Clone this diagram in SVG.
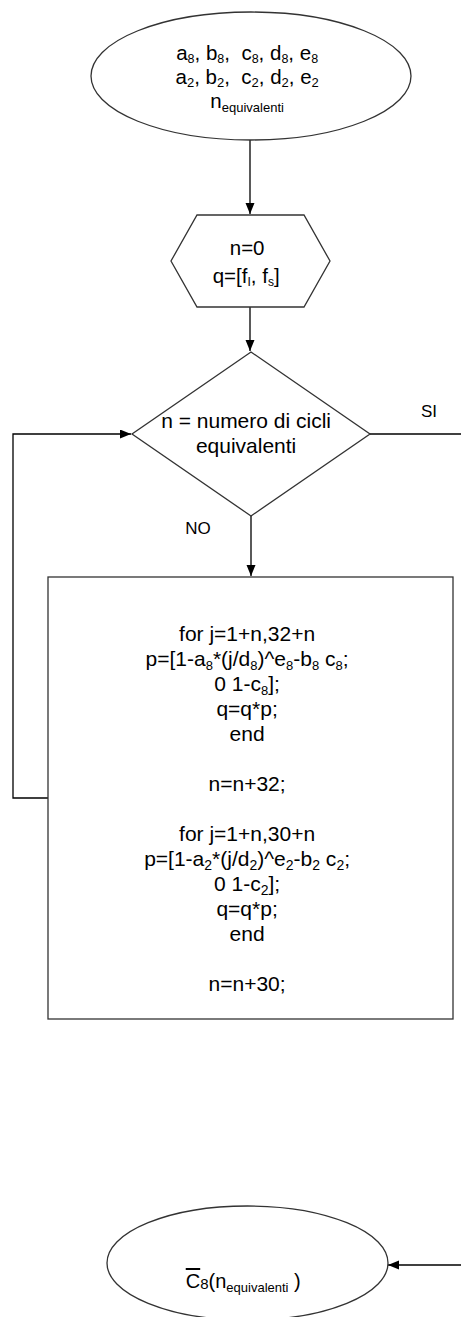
<svg xmlns="http://www.w3.org/2000/svg" width="461" height="1317" viewBox="0 0 461 1317">
<style>
.shape{fill:#fff;stroke:#333;stroke-width:1.3}
.conn{fill:none;stroke:#000;stroke-width:1.3}
.t{font-family:"Liberation Sans",Arial,sans-serif;fill:#000;text-anchor:middle;white-space:pre}
.lbl{font-family:"Liberation Sans",Arial,sans-serif;fill:#000;font-size:17px;text-anchor:middle}
</style>
<defs>
<marker id="arr" markerUnits="userSpaceOnUse" markerWidth="12" markerHeight="10" refX="11" refY="4.5" orient="auto">
<path d="M0,0 L11,4.5 L0,9 z" fill="#000"/>
</marker>
</defs>
<rect width="461" height="1317" fill="#fff"/>
<g id="connectors">
<path class="conn" d="M250,140 V214" marker-end="url(#arr)"/>
<path class="conn" d="M250,307 V351" marker-end="url(#arr)"/>
<path class="conn" d="M251,516 V576" marker-end="url(#arr)"/>
<path class="conn" d="M48,798 H13 V434 H131" marker-end="url(#arr)"/>
<path class="conn" d="M370,434 H461"/>
<path class="conn" d="M461,1265 H388" marker-end="url(#arr)"/>
<text class="lbl" x="429" y="417">SI</text>
<text class="lbl" x="198" y="534">NO</text>
</g>
<g id="start">
<ellipse class="shape" cx="251" cy="76" rx="160" ry="64"/>
<text class="t" font-size="20.5">
<tspan x="250" y="60">a<tspan dy="3" font-size="12.5">8</tspan><tspan dy="-3">, b</tspan><tspan dy="3" font-size="12.5">8</tspan><tspan dy="-3">,  c</tspan><tspan dy="3" font-size="12.5">8</tspan><tspan dy="-3">, d</tspan><tspan dy="3" font-size="12.5">8</tspan><tspan dy="-3">, e</tspan><tspan dy="3" font-size="12.5">8</tspan></tspan>
<tspan x="250" y="84">a<tspan dy="3" font-size="13">2</tspan><tspan dy="-3">, b</tspan><tspan dy="3" font-size="13">2</tspan><tspan dy="-3">,  c</tspan><tspan dy="3" font-size="13">2</tspan><tspan dy="-3">, d</tspan><tspan dy="3" font-size="13">2</tspan><tspan dy="-3">, e</tspan><tspan dy="3" font-size="13">2</tspan></tspan>
<tspan x="250" y="108">n<tspan dy="4" font-size="13">equivalenti</tspan></tspan>
</text>
</g>
<g id="init">
<polygon class="shape" points="197,215 304,215 330,261 304,307 197,307 171,261"/>
<text class="t" font-size="20.5">
<tspan x="250" y="255">n=0</tspan>
<tspan x="249" y="283">q=[f<tspan dy="3" font-size="12">I</tspan><tspan dy="-3">, f</tspan><tspan dy="3" font-size="12">s</tspan><tspan dy="-3">]</tspan></tspan>
</text>
</g>
<g id="decision">
<polygon class="shape" points="251,352 370,434 251,516 132,434"/>
<text class="t" font-size="21">
<tspan x="249" y="428">n = numero di cicli</tspan>
<tspan x="249" y="453">equivalenti</tspan>
</text>
</g>
<g id="process">
<rect class="shape" x="48" y="577" width="405" height="442"/>
<text class="t" font-size="21">
<tspan x="250" y="641">for j=1+n,32+n</tspan>
<tspan x="250" y="666">p=[1-a<tspan dy="4" font-size="13">8</tspan><tspan dy="-4">*(j/d</tspan><tspan dy="4" font-size="13">8</tspan><tspan dy="-4">)^e</tspan><tspan dy="4" font-size="13">8</tspan><tspan dy="-4">-b</tspan><tspan dy="4" font-size="13">8</tspan><tspan dy="-4"> c</tspan><tspan dy="4" font-size="13">8</tspan><tspan dy="-4">;</tspan></tspan>
<tspan x="250" y="691">0 1-c<tspan dy="4" font-size="13">8</tspan><tspan dy="-4">];</tspan></tspan>
<tspan x="250" y="716">q=q*p;</tspan>
<tspan x="250" y="741">end</tspan>
<tspan x="250" y="791">n=n+32;</tspan>
<tspan x="250" y="841">for j=1+n,30+n</tspan>
<tspan x="250" y="866">p=[1-a<tspan dy="4" font-size="14">2</tspan><tspan dy="-4">*(j/d</tspan><tspan dy="4" font-size="14">2</tspan><tspan dy="-4">)^e</tspan><tspan dy="4" font-size="14">2</tspan><tspan dy="-4">-b</tspan><tspan dy="4" font-size="14">2</tspan><tspan dy="-4"> c</tspan><tspan dy="4" font-size="14">2</tspan><tspan dy="-4">;</tspan></tspan>
<tspan x="250" y="891">0 1-c<tspan dy="4" font-size="14">2</tspan><tspan dy="-4">];</tspan></tspan>
<tspan x="250" y="916">q=q*p;</tspan>
<tspan x="250" y="941">end</tspan>
<tspan x="250" y="991">n=n+30;</tspan>
</text>
</g>
<g id="end">
<ellipse class="shape" cx="247.5" cy="1263" rx="140.5" ry="57"/>
<text class="t" font-size="20">
<tspan x="246" y="1288"><tspan text-decoration="overline">C</tspan><tspan dy="1" font-size="15">8</tspan><tspan dy="-1">(n</tspan><tspan dy="4" font-size="13">equivalenti</tspan><tspan dy="-4"> )</tspan></tspan>
</text>
</g>
</svg>
